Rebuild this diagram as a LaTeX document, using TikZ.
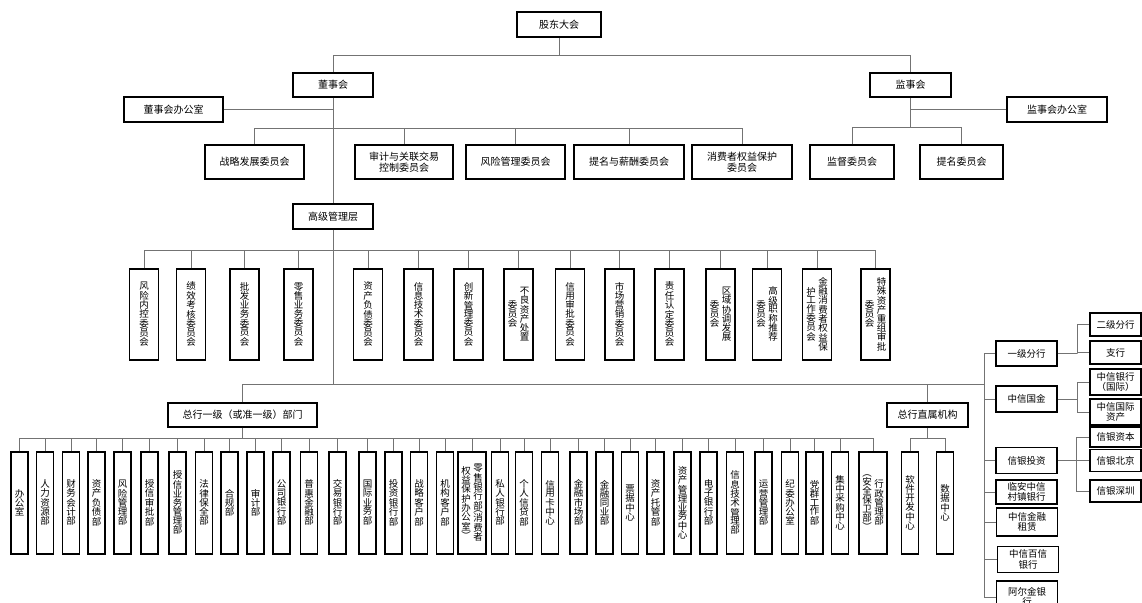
\documentclass[tikz,border=0pt]{standalone}
\usepackage{fontspec}
\setmainfont{Noto Sans CJK SC}
\usepackage{tikz}

% characters stacked in one column
\makeatletter
\def\vc@loop#1{\ifx\relax#1\else\hbox to 1em{\hss#1\hss}\kern0.6pt\expandafter\vc@loop\fi}
\newcommand\vcol[1]{\vbox{\offinterlineskip\edef\vc@list{#1}\expandafter\vc@loop\vc@list\relax}}
\makeatother
% two columns, read right to left
\newcommand\vcols[2]{$\vcenter{\vcol{#1}}$\kern2.5pt$\vcenter{\vcol{#2}}$}

\begin{document}
\begin{tikzpicture}[x=1pt, y=-1pt,
    every node/.style={draw, line width=1.3pt, inner sep=1pt, font=\fontsize{9.5}{11}\selectfont},
    unit/.style={align=center, minimum height=24pt, font=\fontsize{10}{11}\selectfont},
    side/.style={align=center, font=\fontsize{9.5}{10.5}\selectfont},
    comm/.style={minimum width=29pt, minimum height=91pt},
    dept/.style={minimum width=17pt, minimum height=102pt},
    link/.style={draw=black!55, line width=0.9pt}
]
\path[use as bounding box, fill=white] (0,0) rectangle (1142,602);

% bus levels
\coordinate (topbus) at (0,55);
\coordinate (bbus) at (0,128);
\coordinate (sbus) at (0,127);
\coordinate (gbus) at (0,250);
\coordinate (dbus) at (0,438);
\coordinate (rt) at (984,384);
\coordinate (k1) at (1077,353.5);
\coordinate (k2) at (1077,399);
\coordinate (k3) at (1076,460.5);

% top
\node[unit, minimum width=84pt, minimum height=25pt] (gd) at (559,24.5) {股东大会};
\node[unit, minimum width=80pt] (dsh) at (333,85) {董事会};
\node[unit, minimum width=81pt] (jsh) at (910.5,85) {监事会};
\node[unit, minimum width=99pt, minimum height=25pt] (dshb) at (173.5,109.5) {董事会办公室};
\node[unit, minimum width=100pt, minimum height=25pt] (jshb) at (1057,109.5) {监事会办公室};

% board and supervisory committees
\node[unit, minimum width=99pt, minimum height=34pt] (zl) at (254.5,162) {战略发展委员会};
\node[unit, minimum width=98pt, minimum height=34pt] (sj) at (404,162) {审计与关联交易\\控制委员会};
\node[unit, minimum width=99pt, minimum height=34pt] (fx) at (515.5,162) {风险管理委员会};
\node[unit, minimum width=110pt, minimum height=34pt] (tm) at (629,162) {提名与薪酬委员会};
\node[unit, minimum width=100pt, minimum height=34pt] (xb) at (742,162) {消费者权益保护\\委员会};
\node[unit, minimum width=84pt, minimum height=34pt] (jd) at (852,162) {监督委员会};
\node[unit, minimum width=83pt, minimum height=34pt] (tmw) at (961.5,162) {提名委员会};

\node[unit, minimum width=80pt, minimum height=25pt] (gg) at (333,216.5) {高级管理层};

% senior management committees
\foreach \n/\x/\t in {c1/144/风险内控委员会, c2/191/绩效考核委员会, c3/244.5/批发业务委员会,
    c4/298.5/零售业务委员会, c5/368/资产负债委员会, c6/418.5/信息技术委员会,
    c7/468.5/创新管理委员会, c9/570/信用审批委员会, c10/619.5/市场营销委员会,
    c11/669.5/责任认定委员会}
  \node[comm] (\n) at (\x,314.5) {\vcol{\t}};
\node[comm] (c8) at (518.5,314.5) {\vcols{委员会}{不良资产处置}};
\node[comm] (c12) at (720.5,314.5) {\vcols{委员会}{区域协调发展}};
\node[comm] (c13) at (767,314.5) {\vcols{委员会}{高级职称推荐}};
\node[comm] (c14) at (817,314.5) {\vcols{护工作委员会}{金融消费者权益保}};
\node[comm] (c15) at (875.5,314.5) {\vcols{委员会}{特殊资产重组审批}};

\node[unit, minimum width=149pt] (yj) at (242.5,415) {总行一级（或准一级）部门};
\node[unit, minimum width=81pt] (zs) at (927.5,415) {总行直属机构};

% head office departments
\foreach \n/\x/\t in {d1/19.5/办公室, d2/45/人力资源部, d3/71/财务会计部, d4/96.5/资产负债部,
    d5/122.5/风险管理部, d6/149.5/授信审批部, d7/177.5/授信业务管理部, d8/204/法律保全部,
    d9/229.5/合规部, d10/255.5/审计部, d11/281.5/公司银行部, d12/309/普惠金融部,
    d13/337.5/交易银行部, d14/367.5/国际业务部, d15/393.5/投资银行部, d16/419/战略客户部,
    d17/445/机构客户部, d19/500/私人银行部, d20/524/个人信贷部, d21/550/信用卡中心,
    d22/578.5/金融市场部, d23/604.5/金融同业部, d24/630/票据中心, d25/655.5/资产托管部,
    d26/682.5/资产管理业务中心, d27/708.5/电子银行部, d28/735/信息技术管理部,
    d29/763.5/运营管理部, d30/790/纪委办公室, d31/814.5/党群工作部, d32/840/集中采购中心,
    s1/910/软件开发中心, s2/945/数据中心}
  \node[dept] (\n) at (\x,503) {\vcol{\t}};
\node[dept, minimum width=28pt] (d18) at (472,503) {\vcols{权益保护办公室︶}{零售银行部︵消费者}};
\node[dept, minimum width=28pt] (d33) at (873,503) {\vcols{︵安全保卫部︶}{行政管理部}};

% subsidiaries and branches
\node[side, minimum width=61pt, minimum height=25pt] (r1) at (1026.5,353.5) {一级分行};
\node[side, minimum width=61pt, minimum height=26pt] (r2) at (1026.5,399) {中信国金};
\node[side, minimum width=61pt, minimum height=26pt] (r3) at (1026.5,460.5) {信银投资};
\node[side, minimum width=61pt, minimum height=24pt] (r4) at (1026.5,492) {临安中信\\村镇银行};
\node[side, minimum width=61pt, minimum height=28pt] (r5) at (1027,522) {中信金融\\租赁};
\node[side, minimum width=61pt, minimum height=26pt] (r6) at (1028,559.5) {中信百信\\银行};
\node[side, minimum width=61pt, minimum height=32pt] (r7) at (1027,597) {阿尔金银\\行};
\node[side, minimum width=51pt, minimum height=23pt] (q1) at (1115.5,324.5) {二级分行};
\node[side, minimum width=51pt, minimum height=23pt] (q2) at (1115.5,352.5) {支行};
\node[side, minimum width=51pt, minimum height=26pt] (q3) at (1115.5,382) {中信银行\\（国际）};
\node[side, minimum width=51pt, minimum height=26pt] (q4) at (1115.5,412) {中信国际\\资产};
\node[side, minimum width=51pt, minimum height=20pt] (q5) at (1115.5,437) {信银资本};
\node[side, minimum width=51pt, minimum height=22pt] (q6) at (1115.5,460.5) {信银北京};
\node[side, minimum width=51pt, minimum height=22pt] (q7) at (1115.5,491) {信银深圳};

% connectors
\draw[link] (gd.south) -- (gd.south |- topbus);
\draw[link] (dsh.north) |- (jsh.north |- topbus) -- (jsh.north);
\draw[link] (dsh.south) -- (gg.north);
\draw[link] (dshb.east) -- (dshb.east -| dsh.south);
\draw[link] (zl.north) |- (xb.north |- bbus) -- (xb.north);
\foreach \n in {sj,fx,tm}
  \draw[link] (\n.north) -- (\n.north |- bbus);
\draw[link] (jsh.south) -- (jsh.south |- sbus);
\draw[link] (jshb.west) -- (jshb.west -| jsh.south);
\draw[link] (jd.north) |- (tmw.north |- sbus) -- (tmw.north);

\draw[link] (c1.north) |- (c15.north |- gbus) -- (c15.north);
\foreach \i in {2,...,14}
  \draw[link] (c\i.north) -- (c\i.north |- gbus);
\draw[link] (gg.south) -- (gg.south |- rt);
\draw[link] (yj.north) |- (rt);
\draw[link] (zs.north) -- (zs.north |- rt);

\draw[link] (yj.south) -- (yj.south |- dbus);
\draw[link] (d1.north) |- (d33.north |- dbus) -- (d33.north);
\foreach \i in {2,...,32}
  \draw[link] (d\i.north) -- (d\i.north |- dbus);
\draw[link] (zs.south) -- (zs.south |- dbus);
\draw[link] (s1.north) |- (s2.north |- dbus) -- (s2.north);

\draw[link] (r1.west -| rt) -- (r7.west -| rt);
\foreach \n in {r1,r2,r3,r4,r5,r6,r7}
  \draw[link] (\n.west) -- (\n.west -| rt);
\draw[link] (r1.east) -- (k1);
\draw[link] (q1.west) -| (k1) |- (q2.west);
\draw[link] (r2.east) -- (k2);
\draw[link] (q3.west) -| (k2) |- (q4.west);
\draw[link] (r3.east) -- (q6.west);
\draw[link] (q5.west) -| (k3) |- (q7.west);
\end{tikzpicture}
\end{document}
